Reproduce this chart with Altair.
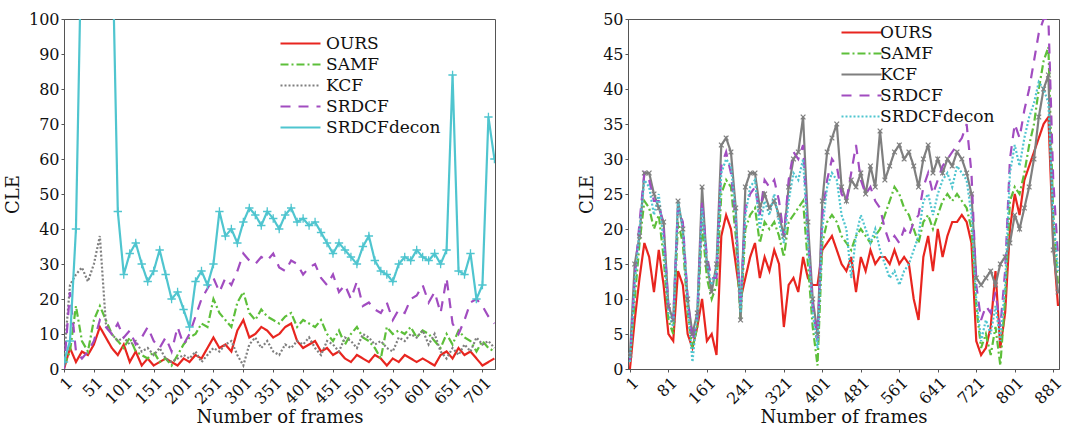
import altair as alt
import pandas as pd

series = ["OURS", "SAMF", "KCF", "SRDCF", "SRDCFdecon"]
colors = ["#e8251f", "#5dbf3a", "#7f7f7f", "#a14cc0", "#4fc5cf"]

# ---------------- left panel (CLE, 0-100) ----------------
left_frames = list(range(1, 722, 10))
left_ticks = [1, 51, 101, 151, 201, 251, 301, 351, 401, 451, 501, 551, 601, 651, 701]
left_yticks = [0, 10, 20, 30, 40, 50, 60, 70, 80, 90, 100]
left_ours = [0, 6, 2, 5, 4, 7, 12, 9, 6, 4,
             7, 2, 5, 1, 3, 1, 2, 3, 2, 1,
             3, 2, 4, 3, 6, 9, 6, 7, 5, 11,
             14, 9, 10, 12, 11, 9, 10, 12, 13, 8,
             6, 7, 8, 5, 6, 4, 5, 3, 2, 4,
             3, 2, 4, 3, 1, 3, 2, 4, 3, 2,
             3, 2, 1, 4, 5, 3, 6, 4, 5, 3,
             1, 2, 3]
left_samf = [1, 5, 18, 8, 5, 14, 18, 14, 10, 8,
             6, 9, 5, 4, 3, 5, 2, 3, 1, 4,
             7, 9, 10, 13, 12, 20, 16, 14, 12, 19,
             22, 16, 14, 17, 15, 14, 13, 15, 16, 12,
             14, 13, 12, 14, 10, 8, 11, 7, 10, 12,
             9, 8, 6, 3, 12, 10, 11, 10, 12, 9,
             11, 10, 8, 6, 10, 7, 11, 9, 8, 5,
             8, 6, 5]
left_kcf = [3, 24, 27, 29, 25, 30, 38, 13, 10, 8,
            9, 7, 8, 5, 6, 4, 6, 3, 2, 3,
            4, 3, 5, 2, 4, 6, 5, 7, 8, 4,
            1, 7, 9, 6, 8, 5, 4, 7, 6, 8,
            7, 9, 6, 4, 8, 7, 5, 9, 8, 6,
            10, 9, 7, 8, 6, 5, 9, 8, 10, 9,
            11, 7, 10, 5, 3, 6, 4, 7, 5, 9,
            7, 8, 6]
left_srdcf = [0, 22, 5, 3, 5, 8, 14, 12, 10, 13,
              9, 11, 7, 9, 12, 8, 6, 9, 5, 12,
              7, 10, 15, 20, 23, 26, 22, 26, 24, 28,
              33, 31, 30, 32, 31, 33, 29, 28, 31, 30,
              27, 29, 30, 26, 24, 27, 22, 24, 20, 25,
              18, 19, 17, 16, 19, 14, 17, 16, 20, 21,
              24, 19, 22, 16, 26, 13, 10, 14, 19, 20,
              18, 15, 13]
left_decon = [2, 8, 40, 130, 150, 150, 150, 150, 130, 45,
              27, 33, 36, 30, 25, 28, 34, 27, 20, 22,
              17, 12, 25, 28, 24, 30, 45, 38, 40, 36,
              42, 46, 44, 41, 45, 43, 40, 44, 46, 42,
              43, 41, 42, 39, 36, 33, 36, 34, 32, 30,
              35, 38, 31, 28, 27, 25, 30, 32, 31, 34,
              32, 31, 33, 30, 34, 84, 28, 27, 33, 20,
              24, 72, 60]

# ---------------- right panel (CLE, 0-50) ----------------
right_frames = list(range(1, 892, 10))
right_ticks = [1, 81, 161, 241, 321, 401, 481, 561, 641, 721, 801, 881]
right_yticks = [0, 5, 10, 15, 20, 25, 30, 35, 40, 45, 50]
right_decon = [1, 12, 20, 27, 26, 22, 25, 18, 8, 6,
               24, 20, 9, 1, 8, 23, 15, 12, 14, 28,
               30, 29, 22, 8, 22, 26, 27, 20, 24, 22,
               25, 21, 18, 24, 28, 27, 30, 18, 8, 3,
               20, 26, 28, 27, 22, 20, 13, 19, 22, 20,
               18, 20, 17, 15, 13, 14, 12, 14, 15, 17,
               19, 24, 25, 22, 25, 27, 28, 26, 29, 28,
               27, 22, 10, 4, 7, 5, 9, 4, 12, 28,
               32, 29, 33, 36, 38, 41, 40, 38, 22, 14]
right_srdcf = [1, 13, 21, 28, 27, 24, 24, 20, 9, 7,
               23, 21, 10, 4, 7, 24, 16, 13, 13, 29,
               31, 28, 21, 9, 23, 25, 26, 22, 27, 26,
               27, 24, 19, 27, 31, 30, 32, 19, 9, 4,
               22, 27, 30, 29, 25, 24, 28, 32, 27, 25,
               26, 24, 23, 20, 18, 19, 18, 20, 19, 21,
               22, 26, 28, 25, 27, 29, 30, 31, 32, 33,
               35, 28, 12, 7, 9, 8, 11, 6, 14, 30,
               35, 33, 37, 40, 44, 48, 50, 50, 27, 16]
right_samf = [1, 10, 18, 24, 23, 20, 22, 16, 7, 5,
              21, 18, 8, 3, 6, 21, 13, 10, 12, 25,
              27, 26, 19, 7, 20, 22, 23, 18, 21, 20,
              21, 19, 16, 21, 22, 23, 24, 15, 6, 0.5,
              18, 21, 22, 21, 19, 18, 17, 19, 20, 19,
              18, 19, 20, 22, 24, 26, 25, 23, 22, 20,
              18, 21, 22, 20, 22, 24, 25, 24, 25, 24,
              23, 20, 9, 3, 5, 2, 6, 0.5, 10, 24,
              26, 25, 28, 32, 35, 40, 44, 46, 22, 12]
right_ours = [0, 7, 13, 18, 16, 11, 17, 12, 5, 4,
              14, 12, 5, 3, 6, 10, 4, 5, 2, 19,
              22, 20, 15, 10, 13, 16, 18, 13, 16, 14,
              17, 15, 6, 12, 13, 11, 16, 13, 12, 12,
              17, 18, 19, 17, 15, 14, 16, 11, 16, 14,
              17, 15, 16, 16, 15, 17, 15, 16, 15, 10,
              7, 16, 19, 14, 20, 16, 19, 21, 21, 22,
              21, 18, 4, 2, 3, 6, 14, 3, 8, 20,
              25, 22, 27, 29, 31, 33, 35, 36, 18, 9]
right_kcf = [2, 15, 19, 28, 28, 25, 23, 21, 9, 7,
             24, 20, 10, 5, 8, 26, 15, 11, 15, 32,
             33, 31, 23, 7, 26, 28, 28, 23, 25, 23,
             24, 22, 19, 26, 30, 31, 36, 21, 10, 5,
             24, 31, 33, 35, 26, 24, 27, 26, 28, 25,
             29, 26, 34, 27, 29, 31, 32, 30, 31, 29,
             26, 30, 32, 28, 30, 28, 30, 29, 31, 30,
             28, 25, 13, 12, 13, 14, 12, 15, 16, 18,
             22, 20, 23, 26, 30, 36, 40, 42, 17, 11]


def long_table(frames, values_by_series):
    rows = []
    for name, vals in values_by_series.items():
        for f, v in zip(frames, vals):
            rows.append({"frame": f, "CLE": v, "series": name, "order": series.index(name)})
    return pd.DataFrame(rows)


left_df = long_table(left_frames, {
    "OURS": left_ours, "SAMF": left_samf, "KCF": left_kcf,
    "SRDCF": left_srdcf, "SRDCFdecon": left_decon})
right_df = long_table(right_frames, {
    "OURS": right_ours, "SAMF": right_samf, "KCF": right_kcf,
    "SRDCF": right_srdcf, "SRDCFdecon": right_decon})

FONT = "DejaVu Serif"
left_dash = [[1, 0], [8, 3, 2, 3], [2, 2], [10, 8], [1, 0]]
right_dash = [[1, 0], [8, 3, 2, 3], [1, 0], [10, 8], [2, 2]]
left_width = [2.2, 2.2, 2.0, 2.4, 1.8]
right_width = [2.2, 2.2, 1.2, 2.4, 2.6]

PLUS = "M-1,0L1,0M0,-1L0,1"
CROSS = "M-1,-1L1,1M-1,1L1,-1"
LEGEND_LINE = "M-2,0L2,0"


def panel(df, xdomain, xticks, ydomain_max, yticks, dashes, widths, marker_series,
          marker_shape, marker_size, lx, ly, label_offset):
    x = alt.X("frame:Q", scale=alt.Scale(domain=xdomain, nice=False, zero=False),
              axis=alt.Axis(values=xticks, labelAngle=315, title="Number of frames",
                            labelPadding=2, tickSize=3, titlePadding=2, labelOverlap=False))
    y = alt.Y("CLE:Q", scale=alt.Scale(domain=[0, ydomain_max], nice=False),
              axis=alt.Axis(values=yticks, title="CLE", tickSize=3, titlePadding=6,
                            labelOverlap=False))
    lines = alt.Chart(df).mark_line(clip=True).encode(
        x=x, y=y,
        color=alt.Color("series:N", scale=alt.Scale(domain=series, range=colors),
                        legend=alt.Legend(title=None, orient="none", legendX=lx, legendY=ly,
                                          symbolType=LEGEND_LINE, symbolSize=400,
                                          symbolStrokeWidth=2.2, labelFont=FONT,
                                          labelFontSize=17, labelColor="#111",
                                          rowPadding=1, labelOffset=label_offset)),
        strokeDash=alt.StrokeDash("series:N", scale=alt.Scale(domain=series, range=dashes)),
        strokeWidth=alt.StrokeWidth("series:N", scale=alt.Scale(domain=series, range=widths),
                                    legend=None),
        order=alt.Order("order:Q"),
        detail="series:N",
    )
    marks = alt.Chart(df).transform_filter(
        alt.datum.series == marker_series
    ).mark_point(shape=marker_shape, size=marker_size, filled=False, strokeWidth=1.3,
                 clip=True, opacity=1).encode(
        x=x, y=y,
        color=alt.value(colors[series.index(marker_series)]),
    )
    return alt.layer(lines, marks).properties(width=431, height=350)


left = panel(left_df, [1, 722], left_ticks, 100, left_yticks, left_dash, left_width,
             "SRDCFdecon", PLUS, 70, 225, 13, 14)
right = panel(right_df, [-3, 893], right_ticks, 50, right_yticks, right_dash, right_width,
              "KCF", CROSS, 22, 222, 2, 7)

chart = alt.hconcat(left, right, spacing=82).resolve_scale(
    color="independent", strokeDash="independent", strokeWidth="independent"
).resolve_legend(color="independent", strokeDash="independent").properties(
    padding={"left": 3, "top": 10, "right": 10, "bottom": 2}
).configure_view(stroke="#555", strokeWidth=1).configure_axis(
    labelFont=FONT, titleFont=FONT, labelFontSize=16, titleFontSize=18,
    titleFontWeight="normal", labelColor="#111", titleColor="#111",
    domainColor="#555", tickColor="#555", grid=False, labelOverlap=False
)

chart.save("out.html", embed_options={"renderer": "svg", "actions": False})
